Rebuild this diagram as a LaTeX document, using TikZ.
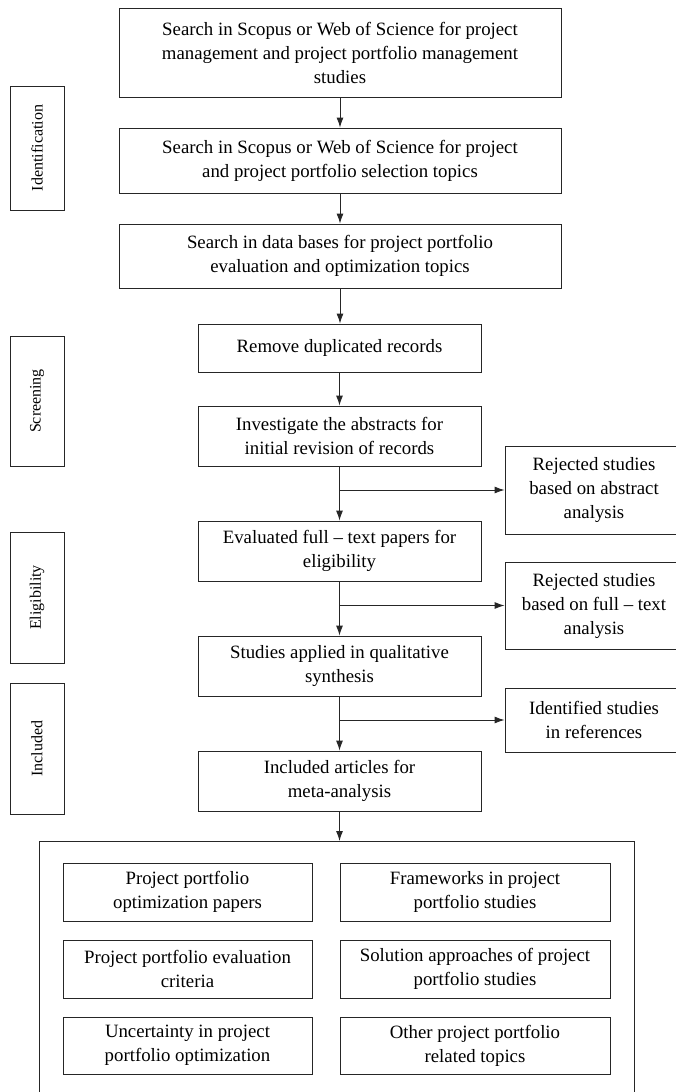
\documentclass[tikz,border=0pt]{standalone}
\usepackage{fontspec}
\setmainfont{Liberation Serif}
\usetikzlibrary{arrows.meta}
\begin{document}
\begin{tikzpicture}[x=1pt,y=-1pt,
  every node/.style={font=\fontsize{18.8}{24}\selectfont},
  box/.style={draw=black!85, line width=0.9pt, align=center, inner sep=0pt, minimum width=#1},
  side/.style={draw=black!85, line width=0.9pt, align=center, inner sep=0pt, minimum width=54pt},
  sidetext/.style={rotate=90, font=\fontsize{16}{20}\selectfont},
  arr/.style={draw=black!85, line width=0.9pt, -{Latex[length=10pt,width=7pt]}},
  ln/.style={draw=black!85, line width=0.9pt}]
\useasboundingbox (0,0) rectangle (675,1092);
% main column
\node[box=442pt, minimum height=89pt] (b1) at (340,52.5) {Search in Scopus or Web of Science for project\\management and project portfolio management\\studies};
\node[box=442pt, minimum height=65pt] (b2) at (340,160.5) {Search in Scopus or Web of Science for project\\and project portfolio selection topics};
\node[box=442pt, minimum height=64pt] (b3) at (340,256) {Search in data bases for project portfolio\\evaluation and optimization topics};
\node[box=283pt, minimum height=48pt] (b4) at (339.5,348) {Remove duplicated records};
\node[box=283pt, minimum height=60pt] (b5) at (339.5,436) {Investigate the abstracts for\\initial revision of records};
\node[box=283pt, minimum height=60pt] (b6) at (339.5,551) {Evaluated full -- text papers for\\eligibility};
\node[box=283pt, minimum height=60pt] (b7) at (339.5,666) {Studies applied in qualitative\\synthesis};
\node[box=283pt, minimum height=60pt] (b8) at (339.5,781) {Included articles for\\meta-analysis};
% right boxes
\node[box=178pt, minimum height=88pt] (r1) at (594,490) {Rejected studies\\based on abstract\\analysis};
\node[box=178pt, minimum height=87pt] (r2) at (594,605.5) {Rejected studies\\based on full -- text\\analysis};
\node[box=178pt, minimum height=64pt] (r3) at (594,720) {Identified studies\\in references};
% side labels
\node[side, minimum height=124pt] (s1) at (37,148) {};
\node[sidetext] at (s1.center) {Identification};
\node[side, minimum height=130pt] (s2) at (37,401) {};
\node[sidetext] at (s2.center) {Screening};
\node[side, minimum height=131pt] (s3) at (37,597.5) {};
\node[sidetext] at (s3.center) {Eligibility};
\node[side, minimum height=131pt] (s4) at (37,748.5) {};
\node[sidetext] at (s4.center) {Included};
% bottom container
\node[box=595pt, minimum height=262pt, anchor=north] (big) at (336.5,841) {};
\node[box=249pt, minimum height=58pt] (c1) at (187.5,892) {Project portfolio\\optimization papers};
\node[box=270pt, minimum height=58pt] (c2) at (475,892) {Frameworks in project\\portfolio studies};
\node[box=249pt, minimum height=58pt] (c3) at (187.5,969) {Project portfolio evaluation\\criteria};
\node[box=270pt, minimum height=58pt] (c4) at (475,969) {Solution approaches of project\\portfolio studies};
\node[box=249pt, minimum height=57pt] (c5) at (187.5,1045.5) {Uncertainty in project\\portfolio optimization};
\node[box=270pt, minimum height=57pt] (c6) at (475,1045.5) {Other project portfolio\\related topics};
% arrows
\draw[arr] (b1) -- (b2);
\draw[arr] (b2) -- (b3);
\draw[arr] (b3) -- (b3.south |- b4.north);
\draw[arr] (b4) -- (b5);
\draw[arr] (b5) -- (b6);
\draw[arr] (b6) -- (b7);
\draw[arr] (b7) -- (b8);
\draw[arr] (b8) -- (b8.south |- big.north);
\draw[arr] (b5.south |- r1.west) -- (r1.west);
\draw[arr] (b6.south |- r2.west) -- (r2.west);
\draw[arr] (b7.south |- r3.west) -- (r3.west);
\end{tikzpicture}
\end{document}
